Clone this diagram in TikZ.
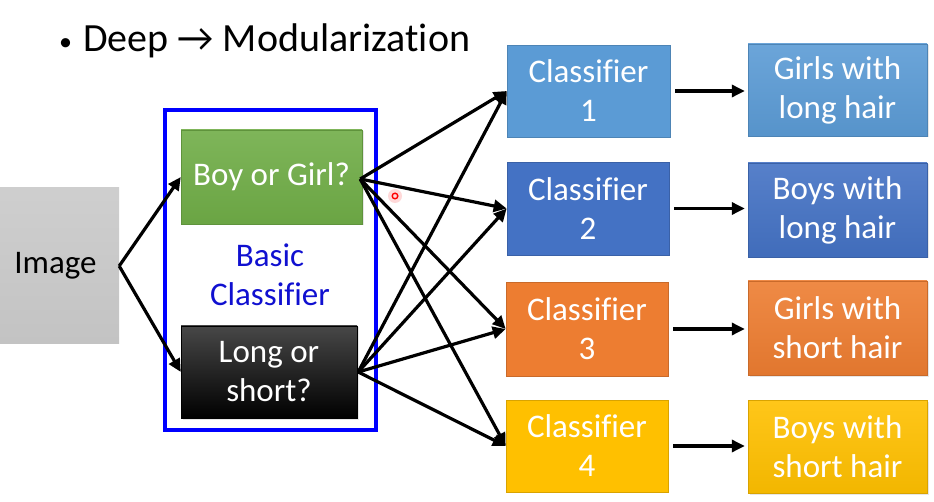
\documentclass[tikz,border=0pt]{standalone}
\usepackage{fontspec}
\setmainfont{Carlito}[Ligatures=NoCommon]
\usetikzlibrary{arrows.meta,shadows}

\definecolor{cgray}{HTML}{C9C9C9}
\definecolor{cgreen}{HTML}{70AD47}
\definecolor{cblueA}{HTML}{5B9BD5}
\definecolor{cblueB}{HTML}{4472C4}
\definecolor{corange}{HTML}{ED7D31}
\definecolor{cgold}{HTML}{FFC000}
\definecolor{frameblue}{HTML}{0000FF}
\definecolor{labelblue}{HTML}{1010D0}

\tikzset{
  box/.style={rectangle, inner sep=0pt, align=center, text=white,
    font=\fontsize{33}{39}\selectfont},
  plainbox/.style={box, fill=#1, draw=#1!85!black, line width=0.6pt},
  gradbox/.style={box, top color=#1!90!white, bottom color=#1!95!black,
    draw=#1!85!black, line width=0.4pt,
    drop shadow={opacity=0.2, shadow xshift=1.5pt, shadow yshift=-1.5pt}},
  link/.style={line width=3.2pt, -{Triangle[length=13pt,width=12pt]}},
}

\begin{document}
\begin{tikzpicture}[x=1pt, y=-1pt]
  \useasboundingbox (0,0) rectangle (934,502);

  % heading
  \node[anchor=base west, inner sep=0pt, font=\fontsize{40}{46}\selectfont]
    (title) at (59,52) {{\fontsize{26}{30}\selectfont\raisebox{1pt}{•}}\hspace{11pt}Deep → Modularization};

  % input
  \node[box, text=black, top color=cgray!90!white, bottom color=cgray!97!black,
        minimum width=127pt, minimum height=156pt] (img) at (55.5,266) {Image};

  % basic classifiers and their frame
  \draw[frameblue, line width=3.2pt] (165,110) rectangle (376,430);
  \node[gradbox=cgreen, minimum width=181pt, minimum height=94pt] (bog) at (271.5,177) {Boy or Girl?};
  \node[box, top color=black!72, bottom color=black, draw=black,
        drop shadow={opacity=0.2, shadow xshift=1.5pt, shadow yshift=-1.5pt},
        minimum width=176pt, minimum height=92pt] (los) at (269,372) {Long or\\short?};
  \node[box, text=labelblue] (basic) at (270,275) {Basic\\Classifier};

  % sub-classifiers
  \node[plainbox=cblueA, minimum width=163pt, minimum height=92pt] (c1) at (588.5,91) {Classifier\\1};
  \node[plainbox=cblueB, minimum width=162pt, minimum height=93pt] (c2) at (588,208.5) {Classifier\\2};
  \node[plainbox=corange, minimum width=162pt, minimum height=94pt] (c3) at (587,329) {Classifier\\3};
  \node[plainbox=cgold, minimum width=162pt, minimum height=92pt] (c4) at (587,446) {Classifier\\4};

  % outputs
  \node[gradbox=cblueA, minimum width=179pt, minimum height=92pt] (o1) at (837.5,90) {Girls with\\long hair};
  \node[gradbox=cblueB, minimum width=179pt, minimum height=94pt] (o2) at (837.5,210) {Boys with\\long hair};
  \node[gradbox=corange, minimum width=179pt, minimum height=94pt] (o3) at (837.5,328) {Girls with\\short hair};
  \node[gradbox=cgold, minimum width=179pt, minimum height=93pt] (o4) at (837.5,446.5) {Boys with\\short hair};

  % connections
  \draw[link] (img.east) -- (bog.west);
  \draw[link] (img.east) -- (los.west);
  \foreach \c in {c1,c2,c3,c4} {
    \draw[link] ([xshift=-2pt,yshift=-2pt]bog.east) -- (\c.west);
    \draw[link] ([xshift=1pt]los.east) -- (\c.west);
  }
  \foreach \i in {1,2,3,4} {
    \draw[link, shorten <=5pt, shorten >=3pt] (c\i.east) -- (c\i.east -| o\i.west);
  }

  % pointer mark
  \fill[red!25, opacity=0.6] (395,196) circle (7pt);
  \draw[red, line width=1.4pt] (395,196) circle (2.8pt);
\end{tikzpicture}
\end{document}
